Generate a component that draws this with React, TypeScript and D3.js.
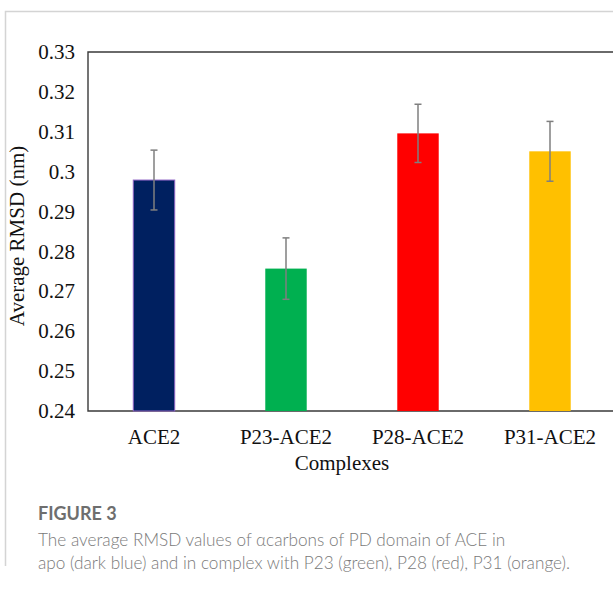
import React, { useEffect, useRef } from 'react';
import * as d3 from 'd3';

// chart data
const categories = ['ACE2', 'P23-ACE2', 'P28-ACE2', 'P31-ACE2'];
const rmsdValues = [0.2979, 0.2757, 0.3096, 0.3051];
const rmsdErrors = [0.0075, 0.0077, 0.0073, 0.0075];
const barColors = ['#002060', '#00b050', '#ff0000', '#ffc000'];
const yTicks = [0.24, 0.25, 0.26, 0.27, 0.28, 0.29, 0.3, 0.31, 0.32, 0.33];

const captionTitle = 'FIGURE 3';
const captionLines = [
  'The average RMSD values of \u03b1carbons of PD domain of ACE in',
  'apo (dark blue) and in complex with P23 (green), P28 (red), P31 (orange).'
];

const WIDTH = 613;
const HEIGHT = 589;

const App: React.FC = () => {
  const svgRef = useRef<SVGSVGElement>(null);

  useEffect(() => {
    if (!svgRef.current) return;
    const svg = d3.select(svgRef.current);
    svg.selectAll('*').remove();

    const serif = '"Liberation Serif", "Times New Roman", serif';
    const sans = 'Lato, "Open Sans", sans-serif';

    // outer frame (top and left edges only visible)
    svg.append('path')
      .attr('d', `M5.5,566 L5.5,11.5 L${WIDTH},11.5`)
      .attr('fill', 'none')
      .attr('stroke', '#d4d4d4')
      .attr('stroke-width', 1.5);

    const plot = { left: 88, right: 616, top: 52, bottom: 411 };

    const x = d3.scaleBand<string>()
      .domain(categories)
      .range([plot.left, plot.right])
      .paddingInner(0.686)
      .paddingOuter(0.343);

    const y = d3.scaleLinear()
      .domain([0.24, 0.33])
      .range([plot.bottom, plot.top]);

    // plot box
    svg.append('path')
      .attr('d', `M${WIDTH},${plot.top} L${plot.left},${plot.top} L${plot.left},${plot.bottom} L${WIDTH},${plot.bottom}`)
      .attr('fill', 'none')
      .attr('stroke', '#3a3a3a')
      .attr('stroke-width', 1.4);

    // y tick labels
    svg.append('g')
      .selectAll('text')
      .data(yTicks)
      .join('text')
      .attr('x', 75)
      .attr('y', d => y(d))
      .attr('dy', '0.34em')
      .attr('text-anchor', 'end')
      .attr('font-family', serif)
      .attr('font-size', 21)
      .attr('fill', '#111')
      .text(d => d3.format('')(+d.toFixed(2)));

    // bars
    svg.append('g')
      .selectAll('rect')
      .data(categories)
      .join('rect')
      .attr('x', d => x(d)!)
      .attr('width', x.bandwidth())
      .attr('y', (d, i) => y(rmsdValues[i]))
      .attr('height', (d, i) => y(0.24) - y(rmsdValues[i]))
      .attr('fill', (d, i) => barColors[i])
      .attr('stroke', (d, i) => (i === 0 ? '#8e62c4' : 'none'))
      .attr('stroke-width', 1);

    // error bars
    const eb = svg.append('g')
      .attr('stroke', '#7f7f7f')
      .attr('stroke-width', 1.5);
    categories.forEach((c, i) => {
      const cx = x(c)! + x.bandwidth() / 2;
      const hi = y(rmsdValues[i] + rmsdErrors[i]);
      const lo = y(rmsdValues[i] - rmsdErrors[i]);
      eb.append('line').attr('x1', cx).attr('x2', cx).attr('y1', hi).attr('y2', lo);
      eb.append('line').attr('x1', cx - 3.5).attr('x2', cx + 3.5).attr('y1', hi).attr('y2', hi);
      eb.append('line').attr('x1', cx - 3.5).attr('x2', cx + 3.5).attr('y1', lo).attr('y2', lo);
    });

    // category labels
    svg.append('g')
      .selectAll('text')
      .data(categories)
      .join('text')
      .attr('x', d => x(d)! + x.bandwidth() / 2)
      .attr('y', 444)
      .attr('text-anchor', 'middle')
      .attr('font-family', serif)
      .attr('font-size', 21)
      .attr('fill', '#111')
      .text(d => d);

    // axis titles
    svg.append('text')
      .attr('x', 342)
      .attr('y', 470)
      .attr('text-anchor', 'middle')
      .attr('font-family', serif)
      .attr('font-size', 21)
      .attr('fill', '#111')
      .text('Complexes');

    svg.append('text')
      .attr('transform', 'translate(24,236) rotate(-90)')
      .attr('text-anchor', 'middle')
      .attr('font-family', serif)
      .attr('font-size', 21)
      .attr('fill', '#111')
      .text('Average RMSD (nm)');

    // caption
    svg.append('text')
      .attr('x', 38)
      .attr('y', 520)
      .attr('font-family', sans)
      .attr('font-size', 18)
      .attr('font-weight', 700)
      .attr('fill', '#6e6e6e')
      .text(captionTitle);

    svg.append('g')
      .selectAll('text')
      .data(captionLines)
      .join('text')
      .attr('x', 38)
      .attr('y', (d, i) => 546 + i * 23)
      .attr('font-family', sans)
      .attr('font-size', 17.2)
      .attr('font-weight', 300)
      .attr('fill', '#7a7a7a')
      .text(d => d);
  }, []);

  return (
    <svg
      ref={svgRef}
      width={WIDTH}
      height={HEIGHT}
      style={{ position: 'absolute', left: 0, top: 0, background: '#fff' }}
    ></svg>
  );
};

export default App;
